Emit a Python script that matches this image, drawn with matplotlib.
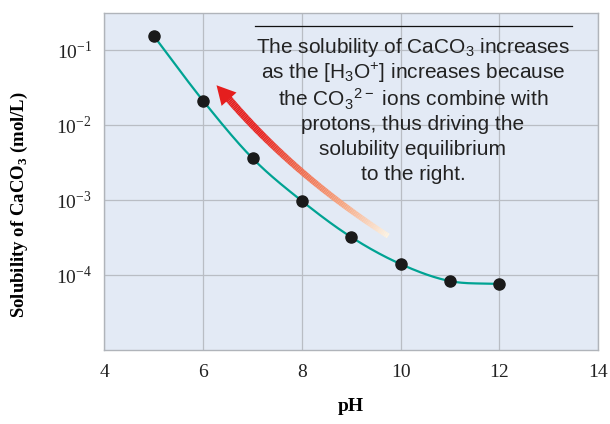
import numpy as np
import matplotlib
matplotlib.use("Agg")
import matplotlib.pyplot as plt
from matplotlib.collections import LineCollection
from matplotlib.colors import LinearSegmentedColormap

plt.rcParams['mathtext.fontset'] = 'custom'
plt.rcParams['mathtext.rm'] = 'Liberation Serif'
plt.rcParams['mathtext.bf'] = 'Liberation Serif:bold'
plt.rcParams['mathtext.sf'] = 'Liberation Sans'

# Data
ph = [5, 6, 7, 8, 9, 10, 11, 12]
solubility = [0.154, 0.021, 0.0036, 0.00097, 0.00032, 0.00014, 0.000083, 0.000076]
x_ticks = [4, 6, 8, 10, 12, 14]
y_ticks = [1e-4, 1e-3, 1e-2, 1e-1]
y_tick_labels = [r"$10^{-4}$", r"$10^{-3}$", r"$10^{-2}$", r"$10^{-1}$"]

fig = plt.figure(figsize=(6.10, 4.24), dpi=100)
ax = fig.add_axes([0.1713, 0.1745, 0.809, 0.7960])
ax.set_facecolor('#e3eaf5')

# smooth curve (Catmull-Rom in log space)
def catmull(xs, ys, n=30):
    xs = np.asarray(xs, float); ys = np.asarray(ys, float)
    px = np.concatenate([[2*xs[0]-xs[1]], xs, [2*xs[-1]-xs[-2]]])
    py = np.concatenate([[2*ys[0]-ys[1]], ys, [2*ys[-1]-ys[-2]]])
    ox, oy = [], []
    for i in range(1, len(px)-2):
        t = np.linspace(0, 1, n, endpoint=False)
        for arr, out in ((px, ox), (py, oy)):
            p0, p1, p2, p3 = arr[i-1], arr[i], arr[i+1], arr[i+2]
            out.extend(0.5*((2*p1) + (-p0+p2)*t + (2*p0-5*p1+4*p2-p3)*t**2 + (-p0+3*p1-3*p2+p3)*t**3))
    ox.append(xs[-1]); oy.append(ys[-1])
    return np.array(ox), np.array(oy)

cx, cy = catmull(ph, np.log10(solubility))
ax.plot(cx, 10**cy, color='#00a393', lw=1.6, zorder=3)
ax.plot(ph, solubility, 'o', color='#1a1a1a', ms=8, zorder=4)

ax.set_yscale('log')
ax.set_xlim(4, 14)
ax.set_ylim(1e-5, 10**-0.5)
ax.set_xticks(x_ticks)
ax.set_xticklabels([str(t) for t in x_ticks], family='Liberation Serif', fontsize=14)
ax.set_yticks(y_ticks)
ax.set_yticklabels(y_tick_labels, fontsize=14)
ax.yaxis.set_minor_locator(matplotlib.ticker.NullLocator())
ax.tick_params(length=0, pad=9, colors='#222222')
ax.tick_params(axis='x', pad=10)
ax.grid(True, color='#b9bdc4', lw=0.9)
ax.set_axisbelow(True)
for s in ax.spines.values():
    s.set_color('#b0b4ba')
    s.set_linewidth(1.0)

ax.set_xlabel('pH', family='Liberation Serif', fontweight='bold', fontsize=14, labelpad=12)
ax.set_ylabel(r'Solubility of CaCO$_\mathbf{3}$ (mol/L)', family='Liberation Serif',
              fontweight='bold', fontsize=13.5)
ax.yaxis.set_label_coords(-0.150, 0.43)

# gradient arrow (quadratic Bezier in pH / log10 space)
P0 = np.array([9.75, -3.48]); P1 = np.array([7.8, -2.65]); P2 = np.array([6.45, -1.60])
t = np.linspace(0, 1, 120)[:, None]
B = (1-t)**2*P0 + 2*(1-t)*t*P1 + t**2*P2
pts = np.column_stack([B[:, 0], 10**B[:, 1]])
segs = np.stack([pts[:-1], pts[1:]], axis=1)
cmap = LinearSegmentedColormap.from_list('arr', ['#fdf3e2', '#f7a47e', '#f06a4c', '#e8231f', '#e51e1e'])
lc = LineCollection(segs, cmap=cmap, linewidths=np.linspace(3.8, 5.4, len(segs)), capstyle='butt', zorder=2)
lc.set_array(np.linspace(0, 1, len(segs)))
ax.add_collection(lc)
ax.annotate('', xy=(6.27, 10**-1.47), xytext=(pts[-3, 0], pts[-3, 1]),
            arrowprops=dict(arrowstyle='-|>,head_length=0.75,head_width=0.4', color='#e51e1e',
                            lw=0, shrinkA=0, shrinkB=0, mutation_scale=18), zorder=2)

# annotation text
ax.plot([0.3052, 0.9466], [0.9615, 0.9615], transform=ax.transAxes, color='#111111', lw=0.9, zorder=5)
lines = [r"The solubility of CaCO$\mathsf{_3}$ increases",
         r"as the [H$\mathsf{_3}$O$\mathsf{^{+}}$] increases because",
         r"the CO$\mathsf{_3}$$\mathsf{^{2-}}$ ions combine with",
         "protons, thus driving the",
         "solubility equilibrium",
         "to the right."]
ys_px = [47, 73, 99, 124, 149, 174]
for txt, yp in zip(lines, ys_px):
    ax.text(0.625, (350 - yp) / 337.5, txt, transform=ax.transAxes, ha='center', va='center',
            family='Liberation Sans', fontsize=15, color='#222222', zorder=5)

fig.savefig('out.png', dpi=100)
